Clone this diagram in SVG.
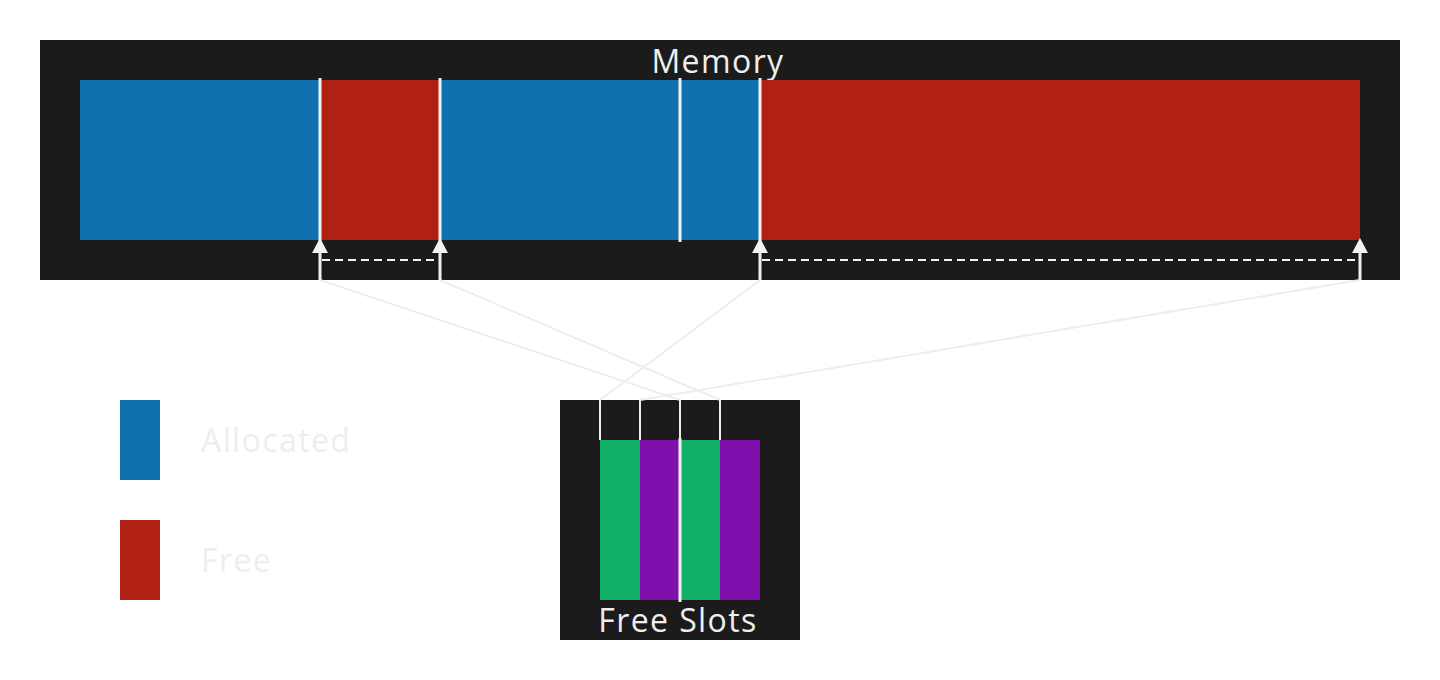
<svg xmlns="http://www.w3.org/2000/svg" width="1440" height="680" viewBox="0 0 1440 680">
<defs>
<style>
.bg{fill:#1b1b1b}
.alloc{fill:#1070ae}
.free{fill:#b02013}
.green{fill:#10b06a}
.purple{fill:#8010ae}
.div{stroke:#f2f2f2;stroke-width:3;fill:none}
.conn{stroke:#eeeeee;stroke-width:2;fill:none}
.dash{stroke:#f2f2f2;stroke-width:2;stroke-dasharray:8 5;fill:none}
.lbl{font-family:"Open Sans","Liberation Sans",sans-serif;font-size:32px;letter-spacing:1.4px;fill:#eeeeee}
.arrow{fill:#f2f2f2}
</style>
</defs>
<rect width="1440" height="680" fill="#ffffff"/>
<g id="memory">
<rect class="bg" x="40" y="40" width="1360" height="240"/>
<text class="lbl" x="718" y="73" text-anchor="middle">Memory</text>
<rect class="alloc" x="80" y="80" width="240" height="160"/>
<rect class="free" x="320" y="80" width="120" height="160"/>
<rect class="alloc" x="440" y="80" width="240" height="160"/>
<rect class="alloc" x="680" y="80" width="80" height="160"/>
<rect class="free" x="760" y="80" width="600" height="160"/>
<line class="div" x1="320" y1="78" x2="320" y2="280"/>
<line class="div" x1="440" y1="78" x2="440" y2="280"/>
<line class="div" x1="680" y1="78" x2="680" y2="242"/>
<line class="div" x1="760" y1="78" x2="760" y2="280"/>
<line class="div" x1="1360" y1="245" x2="1360" y2="280"/>
<polygon class="arrow" points="320,238 312,253 328,253"/>
<polygon class="arrow" points="440,238 432,253 448,253"/>
<polygon class="arrow" points="760,238 752,253 768,253"/>
<polygon class="arrow" points="1360,238 1352,253 1368,253"/>
<line class="dash" x1="322" y1="260" x2="440" y2="260"/>
<line class="dash" x1="762" y1="260" x2="1360" y2="260"/>
</g>
<g id="free-slots">
<rect class="bg" x="560" y="400" width="240" height="240"/>
<rect class="green" x="600" y="440" width="40" height="160"/>
<rect class="purple" x="640" y="440" width="40" height="160"/>
<rect class="green" x="680" y="440" width="40" height="160"/>
<rect class="purple" x="720" y="440" width="40" height="160"/>
<line class="div" x1="680" y1="438" x2="680" y2="602"/>
<line class="conn" x1="600" y1="400" x2="600" y2="440"/>
<line class="conn" x1="640" y1="400" x2="640" y2="440"/>
<line class="conn" x1="680" y1="400" x2="680" y2="440"/>
<line class="conn" x1="720" y1="400" x2="720" y2="440"/>
<text class="lbl" x="678" y="632" text-anchor="middle">Free Slots</text>
</g>
<g id="connectors">
<line class="conn" x1="320" y1="280" x2="680" y2="400"/>
<line class="conn" x1="440" y1="280" x2="720" y2="400"/>
<line class="conn" x1="760" y1="280" x2="600" y2="400"/>
<line class="conn" x1="1360" y1="280" x2="640" y2="400"/>
</g>
<g id="legend-allocated">
<rect class="alloc" x="120" y="400" width="40" height="80"/>
<text class="lbl" x="201" y="452">Allocated</text>
</g>
<g id="legend-free">
<rect class="free" x="120" y="520" width="40" height="80"/>
<text class="lbl" x="201" y="572">Free</text>
</g>
</svg>
